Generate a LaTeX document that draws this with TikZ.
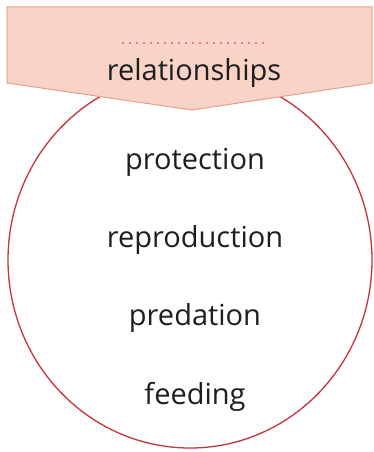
\documentclass[tikz,border=0pt]{standalone}
\usepackage{fontspec}
\setmainfont{Open Sans}
\usetikzlibrary{positioning, shapes.geometric}
\definecolor{ink}     {HTML}{1E1E1E}
\definecolor{rim}     {HTML}{C8323C}
\definecolor{bannerbg}{HTML}{F8D3C6}
\definecolor{bannerln}{HTML}{E6A08C}
\definecolor{dots}    {HTML}{E47A90}

\begin{document}
\begin{tikzpicture}[x=1pt, y=-1pt,
      node distance=48pt,
      item/.style={font=\fontsize{29}{34}\selectfont, text=ink, inner sep=0pt,
                   text height=23pt, text depth=7pt},
      ring/.style={ellipse, draw=rim, line width=1.3pt, fill=white,
                   minimum width=364pt, minimum height=376pt, inner sep=0pt},
      banner/.style={fill=bannerbg, draw=bannerln, line width=1pt, line join=miter}]
    \useasboundingbox (0,0) rectangle (373,452);

    \node[ring] (ring) at (190,260) {};

    % top label
    \draw[banner] (7,7) -- (372,7) -- (372,83) -- (192,110) -- (7,83) -- cycle;
    \coordinate (dl) at (122,43);
    \coordinate (dr) at (265,43);
    \draw[dots, line width=2pt, dash pattern=on 2pt off 5pt] (dl) -- (dr);
    \node[item] (rel) at (194,73) {relationships};

    \node[item] (prot)  at (195,161) {protection};
    \node[item, below=of prot]  (repr)  {reproduction};
    \node[item, below=of repr]  (pred)  {predation};
    \node[item, below=of pred]  (feed)  {feeding};
  \end{tikzpicture}
\end{document}
